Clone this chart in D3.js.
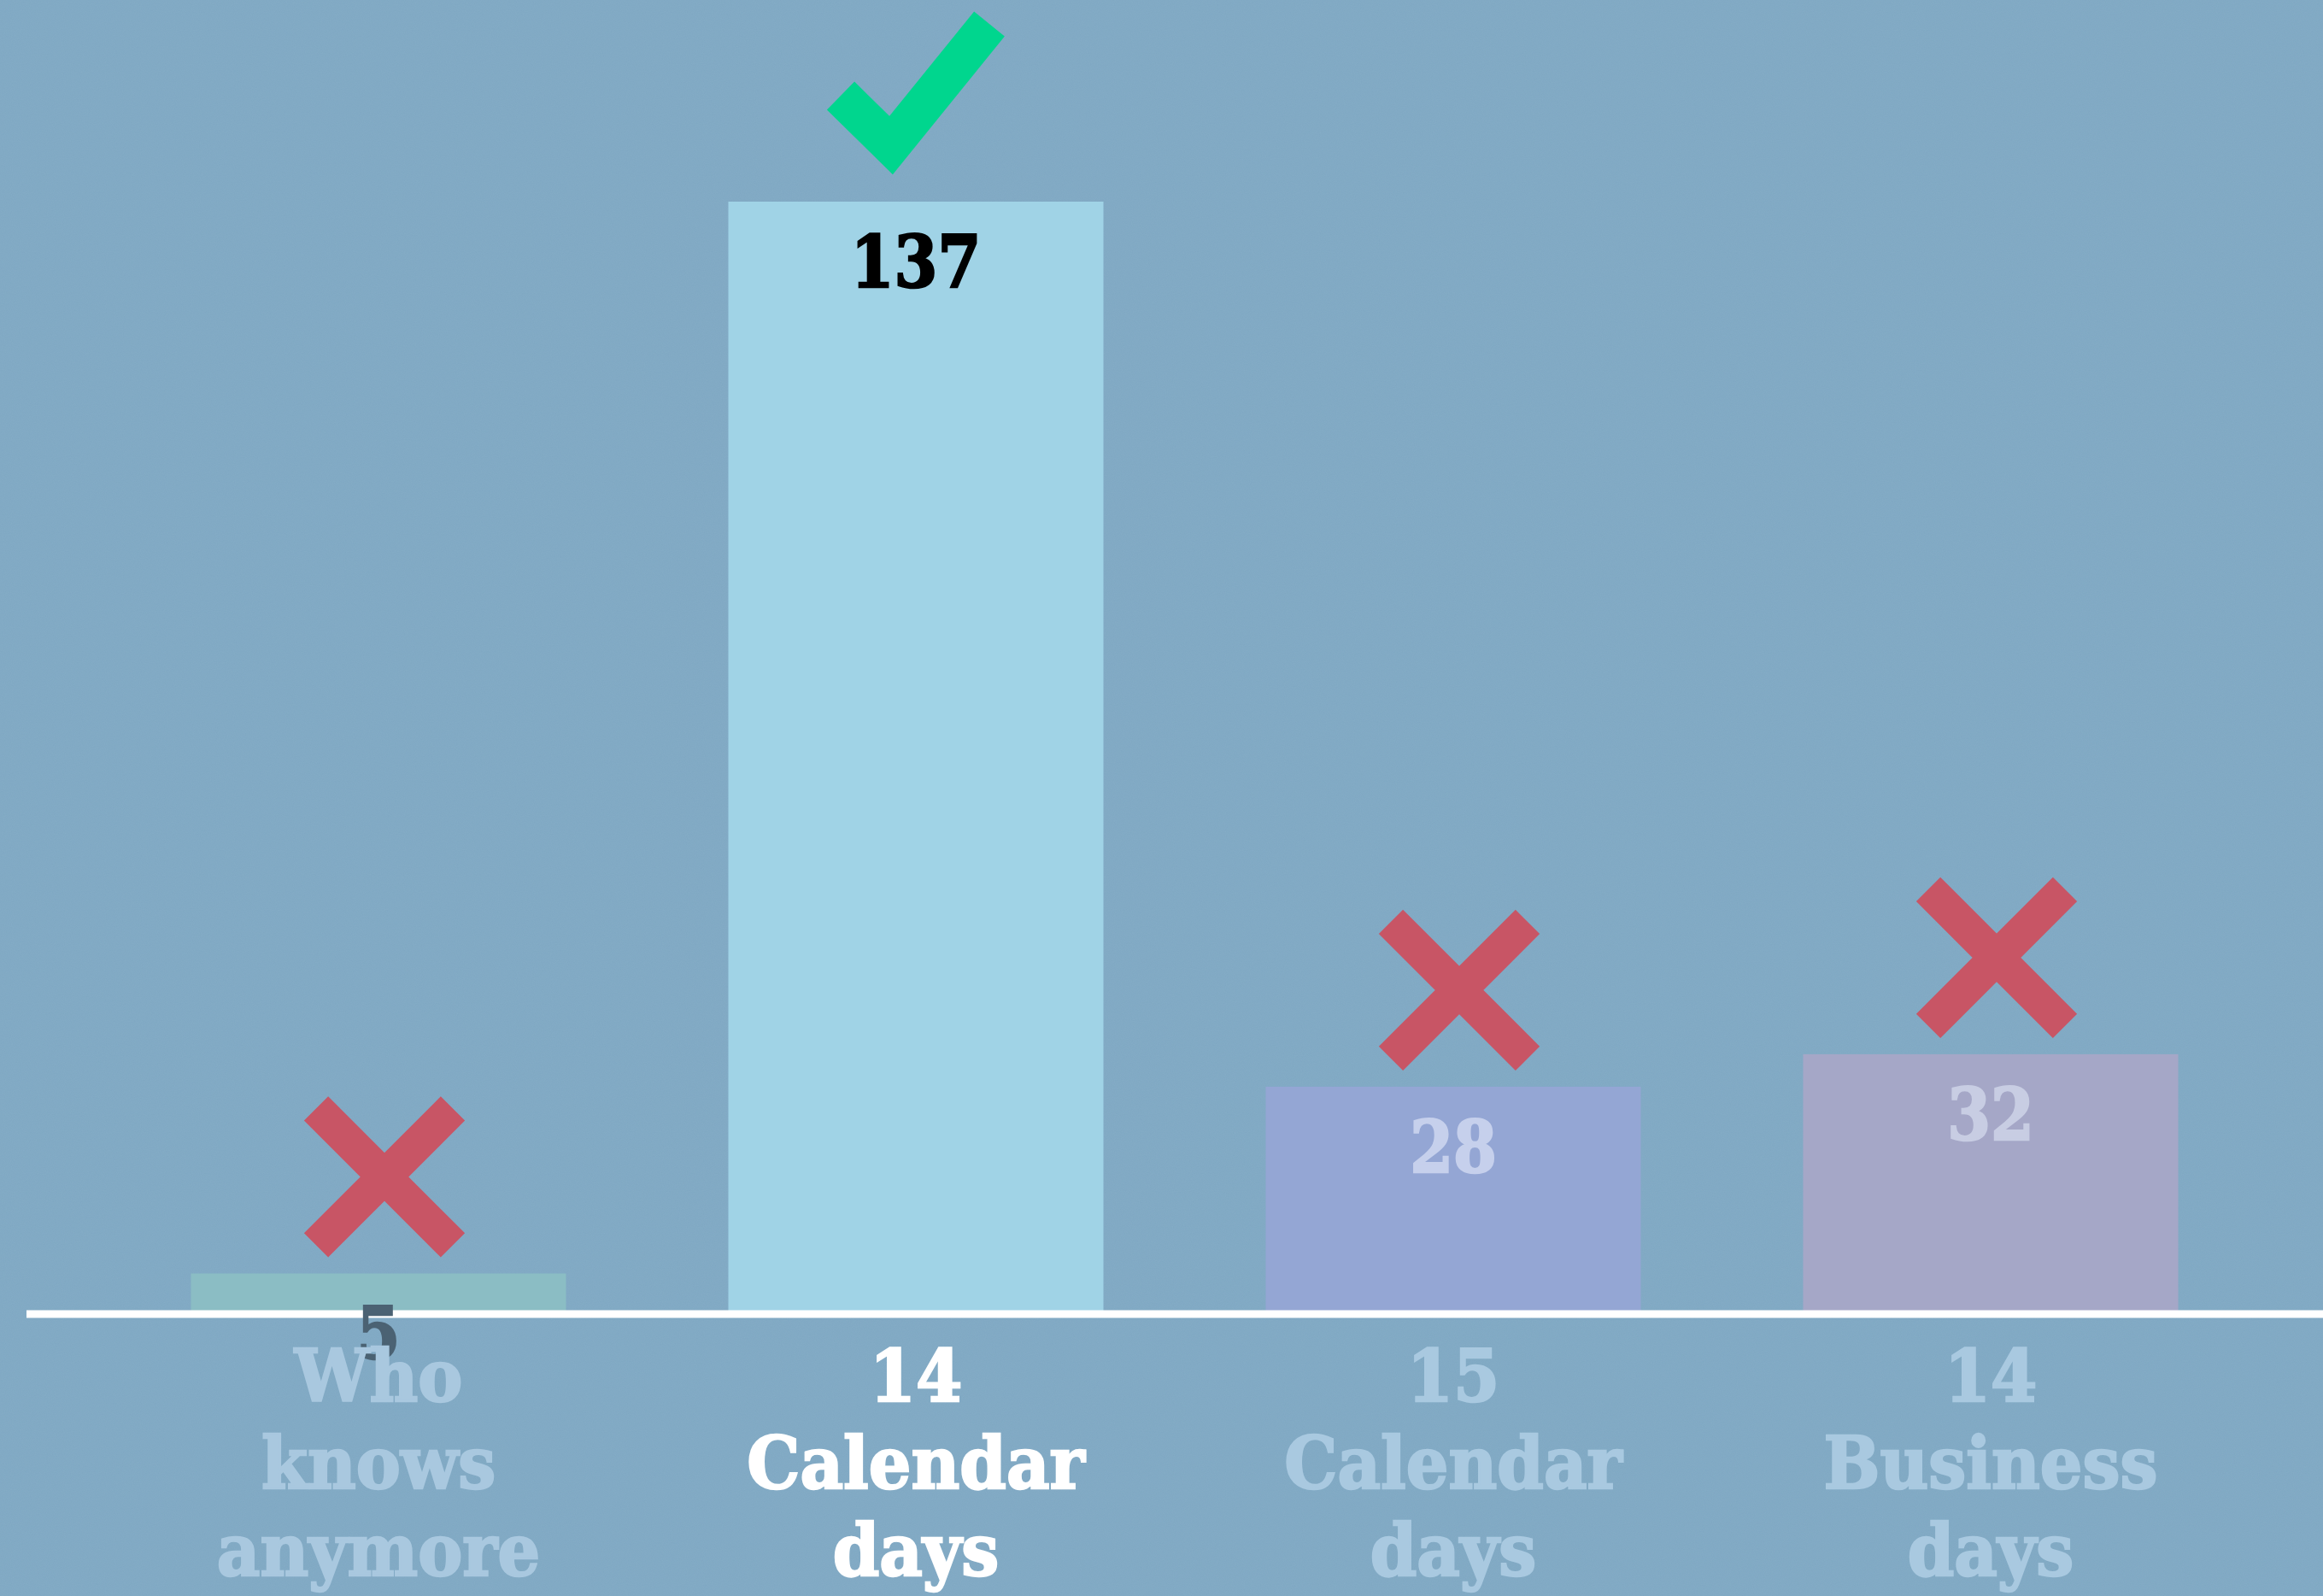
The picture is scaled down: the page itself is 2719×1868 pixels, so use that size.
<!DOCTYPE html>
<html><head><meta charset="utf-8">
<script src="https://cdn.jsdelivr.net/npm/d3@7"></script>
<style>html,body{margin:0;padding:0;background:#7fa8c3;overflow:hidden}</style>
</head><body>
<svg id="chart" width="2719" height="1868"></svg>
<script>
// ---- data ----
const categories = ["Who knows anymore", "14 Calendar days", "15 Calendar days", "14 Business days"];
const labelLines = [["Who", "knows", "anymore"], ["14", "Calendar", "days"], ["15", "Calendar", "days"], ["14", "Business", "days"]];
const values = [5, 137, 28, 32];
const verdicts = ["wrong", "right", "wrong", "wrong"];

// ---- styles ----
const barColors = ["#8bbdc4", "#a0d3e6", "#94a6d4", "#a5a7c7"];
const valueColors = ["#4b6273", "#000000", "#c6d0ec", "#c8cde3"];
const labelColors = ["#a9c8df", "#ffffff", "#a9c9e0", "#a9c9e0"];
const W = 2719, H = 1868;
const FONT = "'DejaVu Serif', serif";
const SX_LABEL = 0.93, SX_VALUE = 0.87;

const svg = d3.select("#chart");

// background + grain
const defs = svg.append("defs");
const f = defs.append("filter").attr("id", "grain").attr("x", 0).attr("y", 0).attr("width", "100%").attr("height", "100%");
f.append("feTurbulence").attr("type", "fractalNoise").attr("baseFrequency", 0.9).attr("numOctaves", 2).attr("seed", 3).attr("result", "n");
f.append("feColorMatrix").attr("type", "matrix")
  .attr("values", "0 0 0 0 0.5  0 0 0 0 0.66  0 0 0 0 0.77  0 0 0 0.18 0");
svg.append("rect").attr("width", W).attr("height", H).attr("fill", "#7fa8c3");
svg.append("rect").attr("width", W).attr("height", H).attr("filter", "url(#grain)").attr("opacity", 0.5);

const x = d3.scaleBand().domain(categories).range([128.5, 2644.5]).paddingInner(0.302).paddingOuter(0.151);
const y = d3.scaleLinear().domain([0, 137]).range([1538, 236]);

const g = svg.append("g");

// bars
g.selectAll("rect.bar").data(categories).join("rect").attr("class", "bar")
  .attr("x", d => x(d)).attr("width", x.bandwidth())
  .attr("y", (d, i) => y(values[i])).attr("height", (d, i) => y(0) - y(values[i]))
  .attr("fill", (d, i) => barColors[i]);

// baseline axis
const axis = d3.axisBottom(x).tickSize(0).tickFormat("");
const ax = g.append("g").attr("transform", `translate(0,${y(0)})`).call(axis);
ax.select(".domain").attr("d", `M31,0H${W}`).attr("stroke", "#ffffff").attr("stroke-width", 9);

// value labels
g.selectAll("text.val").data(categories).join("text").attr("class", "val")
  .attr("transform", (d, i) => `translate(${x(d) + x.bandwidth() / 2},${y(values[i]) + 100}) scale(${SX_VALUE},1)`)
  .attr("text-anchor", "middle")
  .attr("font-family", FONT).attr("font-weight", "bold").attr("font-size", 84)
  .attr("fill", (d, i) => valueColors[i])
  .attr("stroke", (d, i) => valueColors[i]).attr("stroke-width", 2.5)
  .text((d, i) => values[i]);

// category labels
categories.forEach((c, i) => {
  const cx = x(c) + x.bandwidth() / 2;
  labelLines[i].forEach((ln, j) => {
    g.append("text")
      .attr("transform", `translate(${cx},${1640 + j * 102}) scale(${SX_LABEL},1)`)
      .attr("text-anchor", "middle")
      .attr("font-family", FONT).attr("font-weight", "bold").attr("font-size", 84)
      .attr("fill", labelColors[i])
      .attr("stroke", labelColors[i]).attr("stroke-width", 2.5)
      .text(ln);
  });
});

// verdict marks
categories.forEach((c, i) => {
  const cx = x(c) + x.bandwidth() / 2;
  const top = y(values[i]);
  if (verdicts[i] === "right") {
    g.append("path")
      .attr("d", d3.line()([[cx - 88, top - 124], [cx - 29, top - 66], [cx + 86, top - 208]]))
      .attr("fill", "none").attr("stroke", "#00d68e").attr("stroke-width", 46)
      .attr("stroke-linejoin", "miter").attr("stroke-linecap", "butt");
  } else {
    const mx = cx + 7, my = top - 113, a = 80;
    g.append("path")
      .attr("d", `M${mx - a},${my - a}L${mx + a},${my + a}M${mx + a},${my - a}L${mx - a},${my + a}`)
      .attr("fill", "none").attr("stroke", "#c85565").attr("stroke-width", 40)
      .attr("stroke-linecap", "butt");
  }
});
</script>
</body></html>
